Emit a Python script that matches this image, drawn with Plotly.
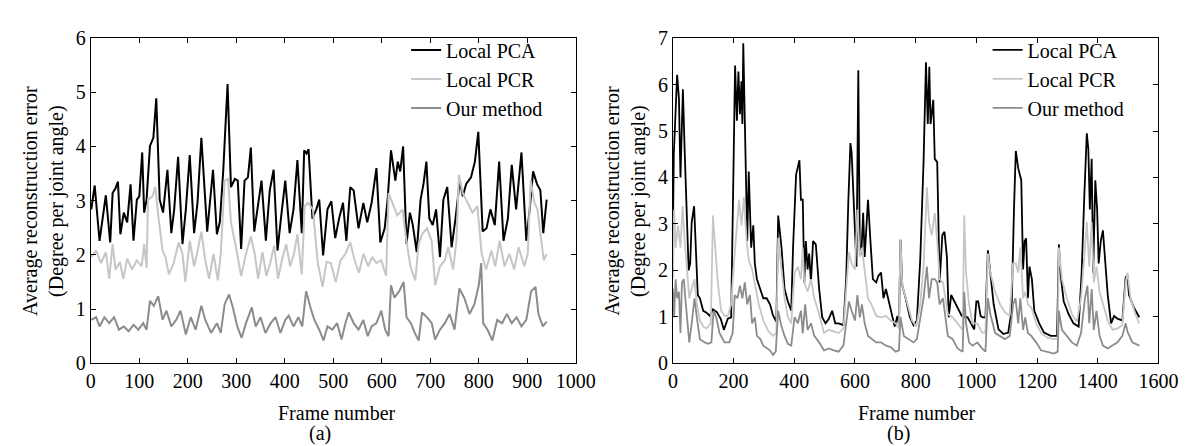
import plotly.graph_objects as go

# ---------------- (a) left panel data ----------------
a_pca_x = [1, 8, 18, 25, 31, 40, 45, 51, 56, 61, 68, 75, 82, 88, 95, 100, 106, 110, 115, 122, 129, 135, 142, 149, 158, 166, 172, 180, 189, 196, 204, 213, 220, 228, 240, 252, 260, 266, 273, 282, 289, 297, 303, 310, 317, 324, 330, 337, 345, 352, 361, 369, 377, 385, 392, 401, 410, 418, 426, 435, 440, 445, 449, 457, 465, 471, 479, 488, 496, 504, 512, 520, 527, 535, 542, 552, 562, 570, 579, 589, 597, 606, 612, 619, 628, 633, 638, 644, 651, 658, 664, 672, 680, 686, 692, 698, 705, 712, 720, 727, 735, 744, 752, 761, 767, 774, 784, 792, 799, 808, 816, 824, 833, 842, 851, 860, 868, 877, 888, 898, 905, 912, 920, 927, 933, 940]
a_pca_y = [2.84, 3.28, 2.26, 2.75, 3.1, 2.23, 3.14, 3.23, 3.35, 2.38, 2.78, 2.6, 3.3, 2.26, 3.02, 3.08, 3.89, 2.78, 3.02, 4.01, 4.16, 4.89, 3.02, 2.78, 3.57, 2.4, 2.84, 3.81, 2.2, 2.84, 3.84, 2.4, 2.96, 4.16, 2.43, 3.57, 2.38, 2.6, 3.54, 5.15, 3.25, 3.4, 3.37, 2.11, 3.37, 3.43, 3.98, 2.43, 2.9, 3.37, 2.26, 3.19, 3.57, 2.08, 2.67, 3.37, 2.4, 2.84, 3.75, 2.4, 3.93, 3.87, 3.95, 2.67, 2.84, 3.02, 1.99, 2.84, 2.99, 2.31, 2.67, 2.96, 2.26, 3.25, 3.19, 2.49, 2.96, 2.6, 2.96, 3.6, 2.23, 2.49, 3.02, 3.93, 3.37, 3.72, 3.54, 4.0, 2.2, 2.78, 2.55, 2.05, 3.02, 3.31, 3.72, 2.67, 2.55, 2.84, 1.96, 3.02, 3.25, 2.14, 2.67, 3.37, 3.08, 3.31, 3.43, 3.72, 4.27, 2.43, 2.49, 2.84, 2.55, 3.72, 2.26, 2.67, 3.66, 2.84, 3.89, 2.26, 2.84, 3.54, 3.31, 3.19, 2.4, 3.02]

a_pcr_x = [1, 11, 21, 31, 38, 45, 51, 60, 67, 75, 85, 95, 105, 110, 115, 118, 127, 133, 139, 148, 154, 161, 171, 181, 189, 195, 204, 213, 219, 228, 236, 244, 253, 262, 268, 276, 283, 289, 300, 310, 320, 330, 338, 345, 354, 362, 370, 378, 386, 394, 403, 411, 419, 426, 435, 441, 448, 458, 468, 478, 486, 495, 505, 515, 525, 535, 544, 553, 562, 572, 580, 589, 599, 609, 614, 622, 632, 643, 649, 659, 669, 676, 683, 693, 703, 710, 720, 730, 737, 747, 754, 759, 767, 777, 787, 797, 806, 815, 826, 834, 843, 853, 863, 873, 882, 894, 901, 907, 915, 921, 928, 934, 940]
a_pcr_y = [1.96, 2.08, 1.85, 2.05, 1.56, 2.2, 1.73, 1.87, 1.56, 1.93, 1.73, 1.9, 1.79, 2.2, 1.76, 3.02, 3.08, 3.25, 2.73, 2.08, 1.96, 1.64, 1.85, 2.23, 2.02, 1.5, 2.26, 1.79, 2.02, 2.43, 1.9, 1.56, 2.02, 1.53, 2.02, 3.37, 3.4, 2.6, 2.11, 1.61, 2.02, 2.34, 2.02, 1.56, 2.05, 1.61, 1.85, 2.17, 1.56, 1.9, 2.2, 1.79, 2.02, 2.38, 1.64, 2.9, 2.96, 2.84, 1.85, 1.41, 1.87, 1.85, 1.5, 1.9, 2.02, 2.23, 1.9, 1.67, 2.02, 1.79, 1.96, 1.85, 1.9, 1.61, 3.14, 2.96, 2.73, 2.84, 2.38, 1.79, 1.53, 2.2, 2.38, 2.49, 2.26, 1.44, 1.79, 1.9, 2.14, 1.73, 2.26, 3.48, 3.14, 2.96, 2.78, 2.9, 2.02, 1.73, 2.08, 1.79, 2.26, 1.79, 2.02, 1.73, 2.14, 1.79, 2.02, 3.37, 2.96, 2.84, 2.38, 1.9, 2.02]

a_our_x = [1, 11, 18, 28, 38, 48, 58, 68, 78, 88, 98, 108, 115, 122, 130, 139, 148, 156, 166, 176, 185, 196, 206, 216, 228, 236, 248, 260, 268, 276, 285, 293, 302, 311, 320, 332, 340, 350, 360, 371, 381, 391, 401, 408, 418, 428, 436, 444, 453, 461, 471, 480, 488, 498, 508, 517, 525, 532, 542, 552, 562, 571, 579, 589, 599, 607, 614, 619, 626, 636, 645, 651, 660, 668, 676, 683, 693, 703, 710, 720, 730, 740, 750, 760, 770, 781, 791, 800, 805, 809, 818, 828, 838, 848, 858, 868, 878, 888, 898, 908, 917, 923, 932, 940]
a_our_y = [0.8, 0.85, 0.68, 0.85, 0.74, 0.85, 0.62, 0.68, 0.59, 0.71, 0.62, 0.74, 0.62, 1.15, 1.06, 1.24, 0.8, 0.97, 0.68, 0.8, 0.97, 0.53, 0.85, 0.62, 1.06, 0.8, 0.56, 0.74, 0.56, 1.09, 1.27, 1.03, 0.68, 0.47, 0.74, 1.03, 0.68, 0.85, 0.56, 0.74, 0.85, 0.56, 0.8, 0.88, 0.68, 0.85, 0.68, 1.33, 1.03, 0.8, 0.62, 0.42, 0.68, 0.62, 0.74, 0.44, 0.74, 0.94, 0.74, 0.62, 0.8, 0.5, 0.68, 0.74, 0.97, 0.62, 0.5, 1.44, 1.21, 1.33, 1.5, 0.85, 0.74, 0.56, 0.42, 0.94, 0.85, 0.74, 0.44, 0.62, 0.74, 0.91, 0.62, 1.38, 1.21, 0.91, 1.09, 1.44, 1.85, 0.74, 0.62, 0.42, 0.8, 0.74, 0.91, 0.74, 0.85, 0.68, 0.8, 1.33, 1.41, 0.91, 0.68, 0.77]

# ---------------- (b) right panel data ----------------
b_pca_x = [0, 3, 14, 20, 25, 33, 39, 46, 52, 57, 62, 70, 75, 82, 89, 100, 111, 122, 132, 145, 158, 168, 181, 192, 205, 211, 216, 221, 226, 229, 232, 238, 245, 250, 258, 265, 270, 277, 288, 298, 309, 320, 330, 341, 347, 358, 368, 379, 390, 396, 406, 412, 417, 422, 428, 433, 438, 444, 449, 455, 462, 471, 482, 492, 503, 514, 525, 535, 546, 562, 571, 578, 585, 589, 594, 600, 605, 611, 616, 621, 627, 632, 643, 651, 659, 670, 677, 686, 694, 702, 713, 724, 731, 740, 745, 750, 756, 767, 781, 793, 804, 815, 826, 834, 840, 845, 849, 858, 863, 871, 879, 888, 895, 903, 909, 917, 928, 938, 952, 971, 982, 993, 1000, 1006, 1014, 1021, 1030, 1038, 1046, 1057, 1073, 1089, 1105, 1116, 1124, 1130, 1138, 1142, 1148, 1154, 1159, 1164, 1170, 1175, 1183, 1191, 1207, 1223, 1245, 1266, 1272, 1277, 1288, 1304, 1320, 1337, 1347, 1356, 1364, 1369, 1374, 1380, 1385, 1392, 1398, 1403, 1410, 1417, 1425, 1433, 1444, 1454, 1465, 1481, 1492, 1498, 1503, 1519, 1537]
b_pca_y = [2.7, 4.5, 6.21, 5.7, 4.0, 5.9, 4.54, 3.31, 2.0, 2.15, 3.04, 3.38, 2.63, 1.47, 1.4, 1.13, 1.09, 1.02, 1.16, 1.1, 0.95, 0.72, 0.96, 0.99, 6.41, 5.22, 6.28, 5.36, 6.07, 5.15, 6.89, 5.02, 2.63, 4.13, 2.49, 2.97, 2.15, 1.81, 1.57, 1.4, 1.4, 1.27, 1.03, 0.89, 3.18, 2.49, 1.6, 1.33, 1.13, 2.49, 4.06, 4.2, 4.37, 3.52, 3.52, 1.74, 2.63, 2.02, 2.36, 1.74, 2.63, 2.56, 1.6, 0.99, 0.86, 0.96, 1.13, 0.86, 0.86, 0.82, 1.81, 3.45, 4.74, 4.54, 3.72, 2.97, 2.08, 6.31, 2.36, 2.36, 3.24, 2.29, 3.52, 2.63, 1.81, 1.74, 1.88, 1.95, 1.4, 1.6, 1.27, 0.99, 0.79, 1.02, 0.82, 2.66, 1.67, 1.4, 0.99, 0.82, 0.92, 2.22, 4.33, 6.48, 5.15, 6.38, 5.15, 5.67, 4.4, 4.33, 1.74, 2.76, 2.83, 2.29, 0.99, 1.47, 1.33, 1.2, 1.02, 0.99, 0.86, 0.73, 1.33, 1.33, 1.02, 0.99, 0.99, 2.43, 1.95, 1.27, 0.73, 0.63, 0.66, 1.13, 3.31, 4.57, 4.2, 4.1, 3.94, 2.02, 2.63, 2.69, 1.4, 2.08, 1.81, 1.13, 0.86, 0.66, 0.59, 0.59, 2.56, 1.95, 1.33, 1.06, 0.86, 0.79, 1.95, 3.65, 4.95, 4.61, 3.31, 4.4, 1.95, 3.94, 3.31, 2.15, 2.63, 2.86, 2.22, 1.47, 0.86, 1.02, 0.96, 0.92, 1.85, 1.9, 1.47, 1.2, 0.99]

b_pcr_x = [0, 4, 9, 17, 25, 32, 39, 46, 54, 62, 71, 79, 89, 100, 111, 125, 132, 138, 148, 159, 170, 181, 192, 202, 211, 218, 226, 234, 243, 250, 261, 272, 283, 298, 315, 330, 341, 347, 358, 368, 379, 390, 401, 412, 422, 428, 433, 444, 455, 466, 482, 498, 514, 530, 546, 562, 573, 580, 589, 600, 608, 616, 623, 632, 643, 654, 670, 686, 702, 718, 734, 745, 750, 756, 772, 788, 802, 815, 826, 837, 844, 853, 863, 871, 879, 890, 906, 922, 938, 955, 960, 966, 976, 987, 1003, 1019, 1030, 1038, 1046, 1062, 1078, 1094, 1110, 1121, 1130, 1138, 1145, 1154, 1161, 1170, 1181, 1197, 1213, 1234, 1256, 1268, 1272, 1282, 1298, 1315, 1331, 1345, 1358, 1364, 1372, 1380, 1387, 1396, 1406, 1417, 1433, 1449, 1465, 1481, 1492, 1498, 1508, 1524, 1537]
b_pcr_y = [1.82, 3.31, 2.49, 2.97, 2.49, 3.38, 2.63, 2.08, 1.4, 1.6, 1.81, 1.27, 0.92, 0.79, 0.75, 0.86, 3.18, 2.63, 1.74, 1.13, 1.02, 1.02, 1.27, 2.22, 2.9, 3.52, 2.97, 3.58, 2.63, 2.22, 2.02, 1.6, 1.27, 0.92, 0.69, 0.59, 0.65, 2.7, 2.02, 1.4, 0.99, 0.86, 1.95, 2.08, 1.81, 2.49, 1.74, 1.54, 1.81, 1.4, 1.06, 0.65, 0.72, 0.69, 0.65, 0.75, 1.74, 2.39, 2.15, 2.02, 3.31, 2.29, 2.49, 1.95, 1.4, 1.27, 1.02, 0.99, 1.02, 0.92, 0.86, 0.75, 2.66, 1.67, 1.27, 0.92, 0.79, 1.27, 2.08, 3.79, 3.04, 2.76, 3.24, 2.63, 1.81, 1.74, 1.06, 0.99, 0.86, 0.72, 3.18, 1.95, 1.27, 0.86, 0.86, 0.66, 0.66, 2.36, 1.95, 1.54, 1.27, 1.1, 1.02, 2.15, 2.15, 1.95, 2.49, 1.4, 1.54, 1.27, 1.2, 0.86, 0.66, 0.55, 0.52, 0.52, 2.49, 1.81, 1.4, 1.06, 0.89, 1.4, 2.49, 3.04, 2.08, 3.04, 1.74, 2.08, 1.54, 1.27, 0.92, 0.72, 0.75, 0.82, 1.74, 1.95, 1.4, 1.06, 0.86]

b_our_x = [0, 4, 9, 14, 20, 25, 30, 36, 41, 46, 54, 62, 71, 79, 89, 105, 116, 127, 134, 143, 154, 170, 186, 197, 204, 213, 221, 229, 237, 245, 254, 261, 270, 277, 288, 298, 309, 320, 330, 339, 347, 358, 368, 379, 390, 401, 412, 422, 428, 436, 444, 455, 466, 482, 498, 514, 530, 546, 562, 573, 580, 589, 600, 608, 616, 623, 632, 643, 656, 670, 686, 702, 718, 734, 745, 750, 761, 777, 793, 804, 815, 826, 837, 844, 853, 863, 871, 879, 890, 906, 922, 938, 955, 960, 966, 976, 987, 1003, 1019, 1030, 1038, 1046, 1062, 1078, 1094, 1110, 1121, 1129, 1138, 1145, 1154, 1161, 1170, 1181, 1197, 1213, 1234, 1256, 1268, 1272, 1282, 1298, 1315, 1331, 1345, 1358, 1366, 1372, 1380, 1387, 1396, 1406, 1417, 1433, 1449, 1465, 1481, 1492, 1498, 1514, 1537]
b_our_y = [1.61, 0.99, 1.81, 1.4, 1.54, 0.65, 1.74, 1.81, 1.4, 0.99, 0.45, 0.86, 1.4, 0.99, 0.52, 0.45, 0.42, 0.45, 1.13, 0.99, 0.65, 0.45, 0.45, 0.65, 1.47, 1.4, 1.67, 1.4, 1.74, 1.27, 1.47, 0.86, 0.99, 0.59, 0.52, 0.38, 0.32, 0.28, 0.18, 0.25, 1.13, 0.79, 0.59, 0.42, 0.38, 0.99, 0.86, 1.13, 0.65, 1.27, 0.72, 0.86, 0.59, 0.45, 0.28, 0.32, 0.28, 0.25, 0.38, 0.92, 1.33, 1.13, 0.92, 1.47, 0.99, 1.27, 0.86, 0.59, 0.52, 0.45, 0.45, 0.38, 0.35, 0.25, 0.28, 1.0, 0.59, 0.52, 0.45, 0.52, 0.92, 1.4, 2.08, 1.4, 1.81, 1.81, 1.74, 1.27, 1.4, 0.59, 0.52, 0.32, 0.25, 1.54, 0.86, 0.45, 0.38, 0.45, 0.32, 0.25, 1.4, 1.06, 0.65, 0.59, 0.52, 0.59, 1.27, 1.4, 0.86, 1.4, 0.72, 0.99, 0.65, 0.59, 0.45, 0.28, 0.25, 0.21, 0.25, 1.13, 0.72, 0.59, 0.45, 0.38, 0.65, 1.4, 1.67, 0.86, 1.6, 0.72, 1.13, 0.59, 0.38, 0.32, 0.38, 0.45, 0.59, 0.86, 0.68, 0.45, 0.38]

series_names = ["Local PCA", "Local PCR", "Our method"]
a_xs = [a_pca_x, a_pcr_x, a_our_x]
a_ys = [a_pca_y, a_pcr_y, a_our_y]
b_xs = [b_pca_x, b_pcr_x, b_our_x]
b_ys = [b_pca_y, b_pcr_y, b_our_y]

FONT = "Liberation Serif"
FS = 20
colors = ["#000000", "#c6c6c6", "#8c8c8c"]

fig = go.Figure()
for name, xs, ys, c in zip(series_names, a_xs, a_ys, colors):
    fig.add_trace(go.Scatter(x=xs, y=ys, mode="lines", name=name,
                             line=dict(color=c, width=2),
                             xaxis="x", yaxis="y", legend="legend"))
for name, xs, ys, c in zip(series_names, b_xs, b_ys, colors):
    fig.add_trace(go.Scatter(x=xs, y=ys, mode="lines", name=name,
                             line=dict(color=c, width=1.8),
                             xaxis="x2", yaxis="y2", legend="legend2"))

axis_common = dict(showline=True, linecolor="black", linewidth=1, mirror="ticks",
                   ticks="inside", ticklen=5, tickcolor="black", showgrid=False,
                   zeroline=False, tickfont=dict(family=FONT, size=FS, color="black"))

fig.update_layout(
    width=1195, height=446,
    margin=dict(l=0, r=0, t=0, b=0),
    paper_bgcolor="white", plot_bgcolor="white",
    font=dict(family=FONT, size=FS, color="black"),
    xaxis=dict(domain=[0.0665, 0.481], range=[0, 1000], dtick=100, anchor="y", **axis_common),
    yaxis=dict(domain=[0.188, 0.955], range=[0, 6], dtick=1, anchor="x", **axis_common),
    xaxis2=dict(domain=[0.564, 0.979], range=[0, 1600], dtick=200, anchor="y2", **axis_common),
    yaxis2=dict(domain=[0.188, 0.955], range=[0, 7], dtick=1, anchor="x2", **axis_common),
    legend=dict(x=0.336, y=0.973, xanchor="left", yanchor="top", bgcolor="rgba(0,0,0,0)",
                font=dict(family=FONT, size=FS), tracegroupgap=0),
    legend2=dict(x=0.833, y=0.973, xanchor="left", yanchor="top", bgcolor="rgba(0,0,0,0)",
                 font=dict(family=FONT, size=FS), tracegroupgap=0),
    showlegend=True,
)

ytitle = "Average reconstruction error<br>(Degree per joint angle)"
annots = [
    dict(text=ytitle, x=0.026, y=0.572, textangle=-90),
    dict(text=ytitle, x=0.5234, y=0.572, textangle=-90),
    dict(text="Frame number", x=0.2765, y=0.07),
    dict(text="Frame number", x=0.773, y=0.07),
    dict(text="(a)", x=0.262, y=0.022),
    dict(text="(b)", x=0.757, y=0.022),
]
for a in annots:
    fig.add_annotation(xref="paper", yref="paper", showarrow=False,
                       xanchor="center", yanchor="middle",
                       font=dict(family=FONT, size=FS, color="black"), **a)

fig.write_html("out.html")
